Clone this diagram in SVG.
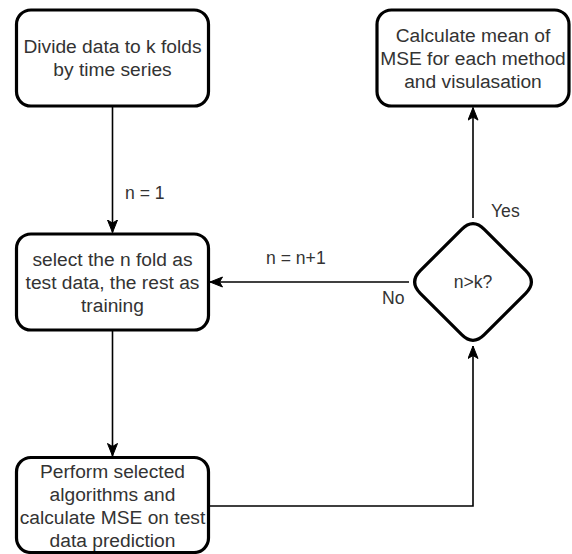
<svg xmlns="http://www.w3.org/2000/svg" width="572" height="554" viewBox="0 0 572 554">
<style>
.box{fill:#fff;stroke:#000;stroke-width:3.2}
.t{font-family:"Liberation Sans",Arial,sans-serif;font-size:19.2px;fill:#333;text-anchor:middle}
.l{font-family:"Liberation Sans",Arial,sans-serif;font-size:17.6px;fill:#333}
.c{fill:none;stroke:#000;stroke-width:1.6}
</style>
<defs>
<marker id="arr" markerUnits="userSpaceOnUse" markerWidth="14" markerHeight="12" refX="13" refY="5.5" orient="auto" viewBox="0 0 14 12">
<path d="M0.5,0.5 L13,5.5 L0.5,10.5 L3.5,5.5 Z" fill="#000" stroke="#000" stroke-width="1"/>
</marker>
</defs>
<rect width="572" height="554" fill="#fff"/>
<g id="connectors">
<path class="c" d="M112.5,106 V232.5" marker-end="url(#arr)"/>
<path class="c" d="M112.5,330 V456" marker-end="url(#arr)"/>
<path class="c" d="M409,282 H210" marker-end="url(#arr)"/>
<path class="c" d="M208.5,506 H473 V346" marker-end="url(#arr)"/>
<path class="c" d="M473,218 V107.6" marker-end="url(#arr)"/>
<text class="l" x="125" y="199">n = 1</text>
<text class="l" x="266" y="264">n = n+1</text>
<text class="l" x="382" y="304">No</text>
<text class="l" x="491" y="217">Yes</text>
</g>
<g id="divide">
<rect class="box" x="16.5" y="10" width="192" height="96" rx="14.4"/>
<text class="t" x="112.5" y="53">Divide data to k folds</text>
<text class="t" x="112.5" y="76">by time series</text>
</g>
<g id="mean">
<rect class="box" x="377" y="10" width="192" height="96" rx="14.4"/>
<text class="t" x="473" y="41.5">Calculate mean of</text>
<text class="t" x="473" y="64.5">MSE for each method</text>
<text class="t" x="473" y="87.5">and visulasation</text>
</g>
<g id="select">
<rect class="box" x="16.5" y="234" width="192" height="96" rx="14.4"/>
<text class="t" x="112.5" y="265.5">select the n fold as</text>
<text class="t" x="112.5" y="288.5">test data, the rest as</text>
<text class="t" x="112.5" y="311.5">training</text>
</g>
<g id="perform">
<rect class="box" x="16.5" y="457.5" width="192" height="95" rx="14.4"/>
<text class="t" x="112.5" y="478">Perform selected</text>
<text class="t" x="112.5" y="501">algorithms and</text>
<text class="t" x="112.5" y="524">calculate MSE on test</text>
<text class="t" x="112.5" y="547">data prediction</text>
</g>
<g id="decision">
<path class="box" d="M484.3,229.3 L525.7,270.7 Q537,282 525.7,293.3 L484.3,334.7 Q473,346 461.7,334.7 L420.3,293.3 Q409,282 420.3,270.7 L461.7,229.3 Q473,218 484.3,229.3 Z"/>
<text class="l" x="473" y="288" text-anchor="middle">n&gt;k?</text>
</g>
</svg>
